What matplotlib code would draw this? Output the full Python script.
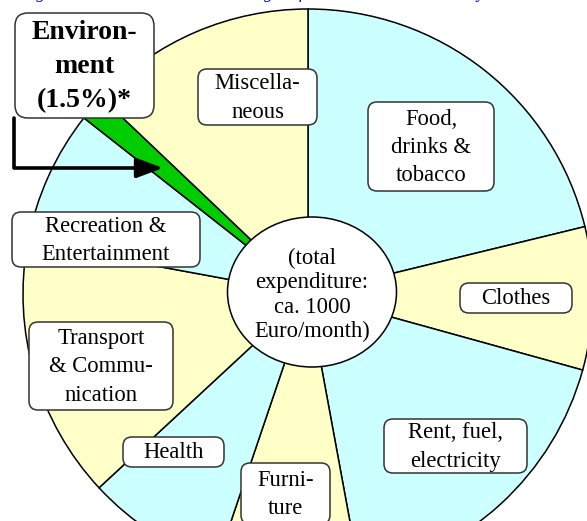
import matplotlib
matplotlib.use("Agg")
import matplotlib.pyplot as plt
from matplotlib.patches import FancyBboxPatch, Ellipse

# shares of monthly household expenditure (%), clockwise from 12 o'clock
categories = ["Food, drinks & tobacco", "Clothes", "Rent, fuel, electricity", "Furniture",
              "Health", "Transport & Communication", "Recreation & Entertainment",
              "Environment", "Miscellaneous"]
shares = [21.2, 8.1, 17.8, 8.1, 7.9, 14.8, 7.7, 1.5, 12.9]
labels = ["Food,\ndrinks &\ntobacco", "Clothes", "Rent, fuel,\nelectricity", "Furni-\nture",
          "Health", "Transport\n& Commu-\nnication", "Recreation &\nEntertainment",
          "Environ-\nment\n(1.5%)*", "Miscella-\nneous"]
center_text = "(total\nexpenditure:\nca. 1000\nEuro/month)"
title = "Average Shares in the Household Budget of a Middle-Income Family"

YELLOW = "#ffffc8"
CYAN = "#ccffff"
GREEN = "#00cc00"
colors = [CYAN, YELLOW, CYAN, YELLOW, CYAN, YELLOW, CYAN, GREEN, YELLOW]

# label boxes in pixel coords (left, top, right, bottom)
boxes = [(368, 102, 494, 191), (460, 283, 572, 313), (384, 419, 527, 473),
         (241, 463, 330, 524), (123, 437, 224, 467), (29, 322, 173, 410),
         (12, 212, 200, 267), (15, 13, 154, 118), (198, 69, 317, 125)]

H = 521
plt.rcParams['font.family'] = ['Liberation Serif', 'DejaVu Serif']

fig = plt.figure(figsize=(5.87, 5.21), dpi=100)
ax = fig.add_axes([0, 0, 1, 1])


def Y(y):
    return H - y


ax.pie(shares, colors=colors, startangle=90, counterclock=False,
       center=(308, Y(294)), radius=285,
       wedgeprops=dict(edgecolor="black", linewidth=1.1))

ax.add_patch(Ellipse((312, Y(292)), 169, 150, facecolor="white",
                     edgecolor="black", linewidth=1.1, zorder=3))
ax.text(312, Y(295), center_text, ha="center", va="center", fontsize=16.3,
        linespacing=1.2, zorder=4)

for lab, (x0, y0, x1, y1) in zip(labels, boxes):
    bold = lab.startswith("Environ")
    ax.add_patch(FancyBboxPatch((x0, Y(y1)), x1 - x0, y1 - y0,
                                boxstyle="round,pad=0,rounding_size=%d" % (13 if bold else 9),
                                facecolor="white", edgecolor="#333333",
                                linewidth=1.1, zorder=5))
    ax.text((x0 + x1) / 2, Y((y0 + y1) / 2 + 1), lab, ha="center", va="center",
            fontsize=20 if bold else 16.3, fontweight="bold" if bold else "normal",
            linespacing=1.47 if bold else 1.46, zorder=6)

# arrow pointing at the environment slice
ax.annotate("", xy=(163, Y(168)), xytext=(14, Y(118)),
            arrowprops=dict(arrowstyle="-|>,head_length=0.8,head_width=0.3",
                            connectionstyle="angle,angleA=-90,angleB=180,rad=0",
                            color="black", lw=2.6, mutation_scale=20,
                            shrinkA=0, shrinkB=0),
            zorder=7)

# title, almost entirely above the visible area
ax.text(-4, Y(-2), title, ha="left", va="baseline", fontsize=12.8,
        style="italic", color="#0000ff")

ax.set_xlim(0, 587)
ax.set_ylim(0, H)
ax.set_aspect("equal")
ax.axis("off")

fig.savefig("out.png", dpi=100)
